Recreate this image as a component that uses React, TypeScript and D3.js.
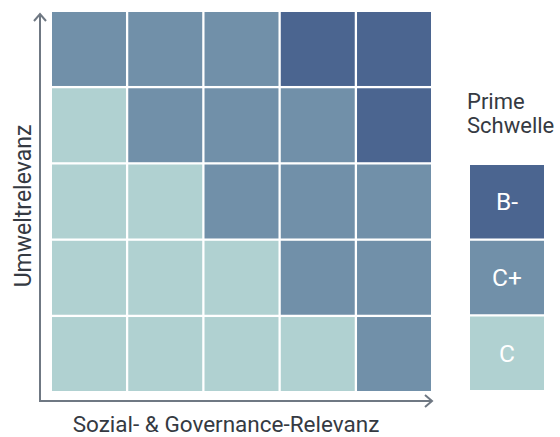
import React from 'react';
import * as d3 from 'd3';

// rating levels, from lowest to highest
const levels = ['C', 'C+', 'B-'];
const levelColors = ['#b0d1d1', '#7190a9', '#4b6590'];

// matrix rows from top (high environmental relevance) to bottom
const matrix = [
  ['C+', 'C+', 'C+', 'B-', 'B-'],
  ['C', 'C+', 'C+', 'C+', 'B-'],
  ['C', 'C', 'C+', 'C+', 'C+'],
  ['C', 'C', 'C', 'C+', 'C+'],
  ['C', 'C', 'C', 'C', 'C+'],
];
const legendOrder = ['B-', 'C+', 'C'];

const xTitle = 'Sozial- & Governance-Relevanz';
const yTitle = 'Umweltrelevanz';
const legendTitle = ['Prime', 'Schwelle'];

export default function App() {
  const width = 560;
  const height = 437;
  const font = 'Roboto, "Noto Sans", sans-serif';

  const cols = d3.range(matrix[0].length);
  const rows = d3.range(matrix.length);

  const x = d3.scaleBand<number>().domain(cols).range([52, 431]).paddingInner(0.03);
  const y = d3.scaleBand<number>().domain(rows).range([12, 391]).paddingInner(0.03);
  const color = d3.scaleOrdinal<string, string>().domain(levels).range(levelColors);
  const legendY = d3.scaleBand<string>().domain(legendOrder).range([165, 390]).paddingInner(0.03);

  const axisColor = '#6f7883';
  const textColor = '#353a42';

  return (
    <svg width={width} height={height} style={{ position: 'absolute', left: 0, top: 0 }}>
      <rect width={width} height={height} fill="#ffffff" />
      {rows.map((r) =>
        cols.map((c) => (
          <rect
            key={`${r}-${c}`}
            x={x(c)}
            y={y(r)}
            width={x.bandwidth()}
            height={y.bandwidth()}
            fill={color(matrix[r][c])}
          />
        )),
      )}

      {/* axes with open arrow heads */}
      <g stroke={axisColor} strokeWidth={2} fill="none">
        <line x1={40} y1={14} x2={40} y2={401} />
        <line x1={39} y1={401} x2={432} y2={401} />
        <polyline points="34,21 40,14 46,21" />
        <polyline points="425,395 432,401 425,407" />
      </g>

      <text
        x={226}
        y={432}
        textAnchor="middle"
        fontFamily={font}
        fontSize={22.5}
        fill={textColor}
      >
        {xTitle}
      </text>
      <text
        transform={`translate(31,206) rotate(-90)`}
        textAnchor="middle"
        fontFamily={font}
        fontSize={23}
        fill={textColor}
      >
        {yTitle}
      </text>

      {/* legend */}
      {legendTitle.map((t, i) => (
        <text key={t} x={467} y={109 + i * 24} fontFamily={font} fontSize={22} fill={textColor}>
          {t}
        </text>
      ))}
      {legendOrder.map((l) => (
        <g key={l}>
          <rect x={470} y={legendY(l)} width={74} height={legendY.bandwidth()} fill={color(l)} />
          <text
            x={507}
            y={(legendY(l) as number) + legendY.bandwidth() / 2 + 8.5}
            textAnchor="middle"
            fontFamily={font}
            fontSize={24.5}
            fill="#ffffff"
          >
            {l}
          </text>
        </g>
      ))}
    </svg>
  );
}
